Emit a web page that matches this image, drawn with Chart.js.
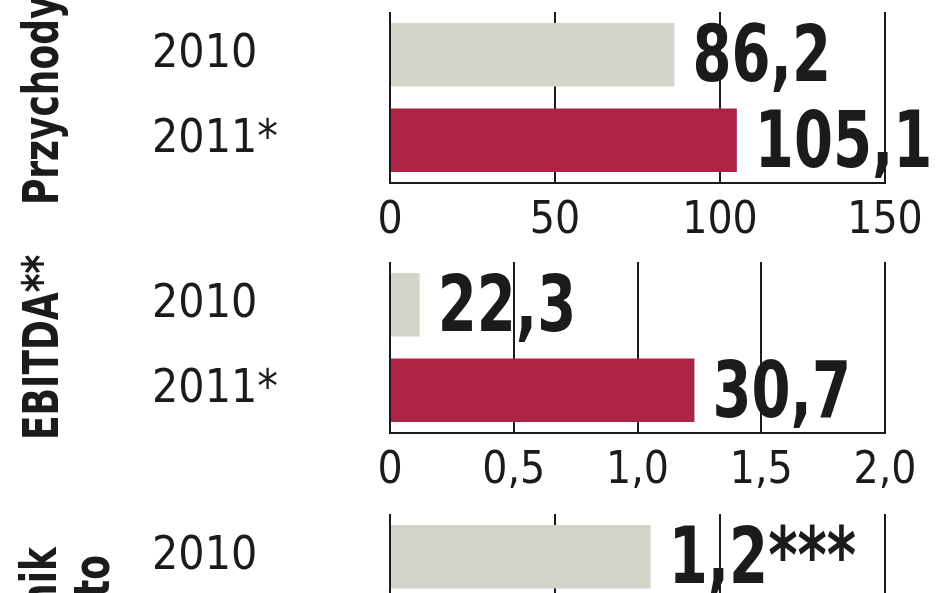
<!DOCTYPE html>
<html lang="pl">
	<head>
		<meta charset="UTF-8" />
		<title>Przychody, EBITDA, wynik netto</title>
		<script src="https://cdn.jsdelivr.net/npm/chart.js"></script>
		<style>
			body {
				margin: 0;
				padding: 0;
				background: #fff;
				width: 948px;
				height: 593px;
				overflow: hidden;
				position: relative;
			}

			canvas {
				position: absolute;
				left: 0;
			}
		</style>
	</head>
	<body>
		<canvas id="rev" width="948" height="250" style="top: 0px"></canvas>
		<canvas id="ebitda" width="948" height="250" style="top: 250px"></canvas>
		<canvas id="net" width="948" height="250" style="top: 502px"></canvas>
		<script>
			const categories = ["2010", "2011*"];

			const revenue = [86.2, 105.1];
			const revenueLabels = ["86,2", "105,1"];
			const revenueTicks = ["0", "50", "100", "150"];

			// bars in the EBITDA panel follow the 0-2,0 axis, labels are the printed values
			const ebitda = [0.12, 1.23];
			const ebitdaLabels = ["22,3", "30,7"];
			const ebitdaTicks = ["0", "0,5", "1,0", "1,5", "2,0"];

			const netProfit = [0.79, null];
			const netLabels = ["1,2***", ""];
			const netTicks = ["0", "0,5", "1,0", "1,5"];

			const FONT = '"DejaVu Sans Condensed", "Liberation Sans Narrow", sans-serif';
			const INK = "#1b1b1b";
			const GREY = "#d4d4ca";
			const RED = "#ad2343";
			const SQUEEZE = 0.8; // the original type is a narrow DIN-like face

			function valueLabels(labels) {
				return {
					id: "valueLabels",
					afterDatasetsDraw(chart) {
						const ctx = chart.ctx;
						const meta = chart.getDatasetMeta(0);
						ctx.save();
						ctx.font = "bold 78px " + FONT;
						ctx.fillStyle = INK;
						ctx.textAlign = "left";
						ctx.textBaseline = "middle";
						meta.data.forEach((bar, i) => {
							if (!labels[i]) return;
							ctx.save();
							ctx.translate(bar.x + 18, bar.y + 6);
							ctx.scale(SQUEEZE, 1);
							ctx.fillText(labels[i], 0, 0);
							ctx.restore();
						});
						ctx.restore();
					},
				};
			}

			function sideTitle(lines) {
				return {
					id: "sideTitle",
					afterDraw(chart) {
						const ctx = chart.ctx;
						ctx.save();
						ctx.font = "bold 50px " + FONT;
						ctx.fillStyle = INK;
						ctx.textBaseline = "middle";
						lines.forEach((l) => {
							ctx.save();
							ctx.translate(l.x, l.y);
							ctx.rotate(-Math.PI / 2);
							ctx.scale(SQUEEZE, 1);
							ctx.textAlign = l.align;
							ctx.fillText(l.text, 0, 0);
							ctx.restore();
						});
						ctx.restore();
					},
				};
			}

			function makePanel(id, values, labels, ticks, max, step, title, showTicks) {
				const ctx = document.getElementById(id).getContext("2d");
				return new Chart(ctx, {
					type: "bar",
					data: {
						labels: categories,
						datasets: [
							{
								data: values,
								backgroundColor: [GREY, RED],
								borderWidth: 0,
								barPercentage: 0.74,
								categoryPercentage: 1,
							},
						],
					},
					options: {
						indexAxis: "y",
						responsive: false,
						animation: false,
						devicePixelRatio: 1,
						layout: {
							autoPadding: false,
							padding: { left: 152, right: 63, top: 12, bottom: 0 },
						},
						plugins: {
							legend: { display: false },
							tooltip: { enabled: false },
						},
						scales: {
							x: {
								min: 0,
								max: max,
								afterFit: (s) => {
									s.height = 67;
									s.paddingLeft = 0;
									s.paddingRight = 0;
								},
								ticks: {
									display: showTicks,
									stepSize: step,
									padding: 12,
									color: INK,
									font: { family: FONT, size: 44 },
									callback: (v, i) => ticks[i],
								},
								grid: {
									color: INK,
									lineWidth: 2,
									drawTicks: false,
								},
								border: { display: true, color: INK, width: 2 },
							},
							y: {
								afterFit: (s) => {
									s.width = 238;
									s.paddingTop = 0;
									s.paddingBottom = 0;
								},
								ticks: {
									crossAlign: "far",
									color: INK,
									font: { family: FONT, size: 46 },
								},
								grid: { display: false },
								border: { display: false },
							},
						},
					},
					plugins: [valueLabels(labels), sideTitle(title)],
				});
			}

			makePanel("rev", revenue, revenueLabels, revenueTicks, 150, 50,
				[{ text: "Przychody", x: 45, y: 205, align: "left" }], true);
			makePanel("ebitda", ebitda, ebitdaLabels, ebitdaTicks, 2, 0.5,
				[{ text: "EBITDA**", x: 45, y: 190, align: "left" }], true);
			makePanel("net", netProfit, netLabels, netTicks, 1.5, 0.5,
				[
					{ text: "Wynik", x: 43, y: 45, align: "right" },
					{ text: "netto", x: 96, y: 53, align: "right" },
				], false);
		</script>
	</body>
</html>
